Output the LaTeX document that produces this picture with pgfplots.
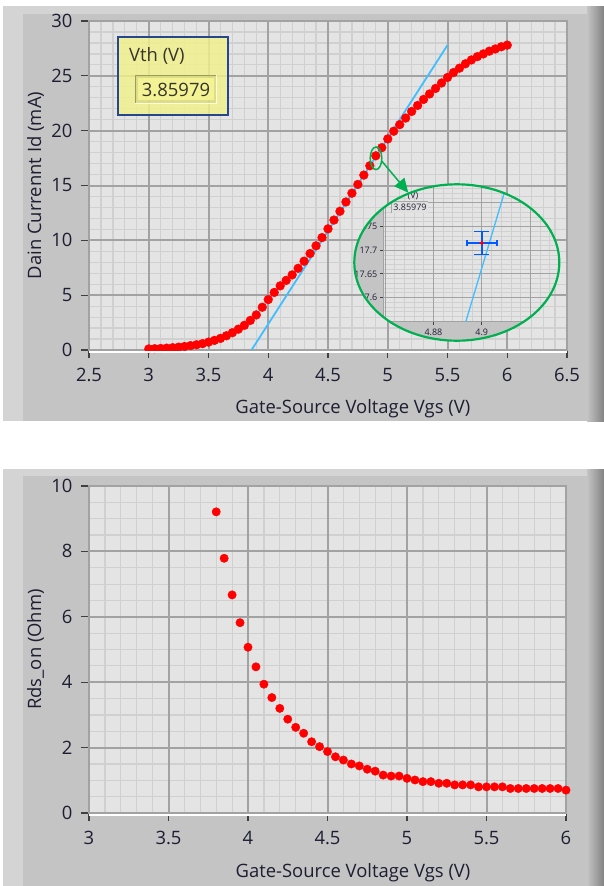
\documentclass[border=0pt]{standalone}
\usepackage{pgfplots}
\pgfplotsset{compat=1.18}
\usepackage{pgfplotstable}
\usepackage{fontspec}
\setmainfont{Open Sans}
\usetikzlibrary{arrows.meta}
\definecolor{panel}{RGB}{196,196,196}
\definecolor{panellight}{RGB}{212,212,212}
\definecolor{paneldark}{RGB}{130,130,130}
\definecolor{plotbg}{RGB}{228,228,228}
\definecolor{majgrid}{RGB}{162,162,162}
\definecolor{mingrid}{RGB}{208,208,208}
\definecolor{fitblue}{RGB}{64,190,255}
\definecolor{cursorblue}{RGB}{0,90,255}
\definecolor{zoomgreen}{RGB}{0,176,80}
\definecolor{vthborder}{RGB}{40,70,140}
\definecolor{vthfill}{RGB}{242,242,140}
\definecolor{labeltext}{RGB}{30,30,50}

\pgfplotstableread{
v id
3.00 0.10
3.05 0.12
3.10 0.14
3.15 0.17
3.20 0.21
3.25 0.26
3.30 0.32
3.35 0.40
3.40 0.48
3.45 0.58
3.50 0.72
3.55 0.88
3.60 1.06
3.65 1.30
3.70 1.58
3.75 1.90
3.80 2.25
3.85 2.70
3.90 3.20
3.95 3.90
4.00 4.60
4.05 5.25
4.10 5.85
4.15 6.35
4.20 6.85
4.25 7.45
4.30 8.10
4.35 8.80
4.40 9.50
4.45 10.25
4.50 11.05
4.55 11.85
4.60 12.65
4.65 13.50
4.70 14.30
4.75 15.10
4.80 15.95
4.85 16.80
4.90 17.71
4.95 18.45
5.00 19.25
5.05 19.95
5.10 20.55
5.15 21.15
5.20 21.75
5.25 22.30
5.30 22.85
5.35 23.35
5.40 23.85
5.45 24.35
5.50 24.85
5.55 25.30
5.60 25.70
5.65 26.10
5.70 26.45
5.75 26.75
5.80 27.00
5.85 27.25
5.90 27.45
5.95 27.65
6.00 27.80
}\idtable

\pgfplotstableread{
v rds
3.80 9.21
3.85 7.79
3.90 6.67
3.95 5.82
4.00 5.07
4.05 4.47
4.10 3.94
4.15 3.53
4.20 3.20
4.25 2.87
4.30 2.62
4.35 2.44
4.40 2.18
4.45 2.03
4.50 1.88
4.55 1.72
4.60 1.62
4.65 1.50
4.70 1.44
4.75 1.34
4.80 1.28
4.85 1.16
4.90 1.13
4.95 1.13
5.00 1.06
5.05 1.01
5.10 0.96
5.15 0.96
5.20 0.91
5.25 0.91
5.30 0.86
5.35 0.86
5.40 0.86
5.45 0.80
5.50 0.80
5.55 0.80
5.60 0.80
5.65 0.75
5.70 0.75
5.75 0.75
5.80 0.75
5.85 0.75
5.90 0.75
5.95 0.75
6.00 0.70
}\rdstable

\newcommand{\lvfont}{\fontsize{18.5}{20}\selectfont}
\pgfplotsset{
  minorlayer/.style={
    scale only axis,
    axis background/.style={fill=plotbg},
    xticklabels={}, yticklabels={},
    grid=minor,
    minor grid style={mingrid, line width=1.2bp},
    major tick length=0bp,
    minor tick length=0bp,
    axis line style={draw=none},
  },
  labview/.style={
    scale only axis,
    grid=major,
    major grid style={majgrid, line width=2bp},
    axis line style={majgrid, line width=2bp},
    tick align=outside,
    xtick pos=bottom, ytick pos=left,
    major tick length=8bp,
    every tick/.style={black!75, line width=1.2bp},
    tick label style={font=\lvfont, text=labeltext},
    xticklabel style={yshift=-7bp},
    yticklabel style={xshift=-5bp},
    /pgf/number format/assume math mode=true,
  },
  reddots/.style={only marks, mark=*, mark size=4.4bp, mark options={fill=red, draw=red}},
}

\begin{document}
\begin{tikzpicture}[x=1bp,y=1bp]
\useasboundingbox (0,0) rectangle (604,-886);
% ---------- panels ----------
\fill[panel] (3,-6) rectangle (604,-421);
\fill[panellight] (3,-6) rectangle (23,-421);
\fill[panellight] (3,-6) rectangle (604,-14);
\shade[left color=panel, right color=paneldark] (587,-6) rectangle (604,-421);
\fill[panel] (3,-469) rectangle (604,-886);
\fill[panellight] (3,-469) rectangle (23,-886);
\fill[panellight] (3,-469) rectangle (604,-476);
\shade[left color=panel, right color=paneldark] (587,-469) rectangle (604,-886);

% ---------- top chart ----------
\begin{axis}[minorlayer,
  at={(89bp,-350bp)}, anchor=south west,
  width=478bp, height=329bp,
  xmin=2.5, xmax=6.5, ymin=0, ymax=30,
  xtick={2.5,3,3.5,4,4.5,5,5.5,6,6.5},
  ytick={0,5,10,15,20,25,30},
  minor xtick={2.6,2.7,2.8,2.9,3.1,3.2,3.3,3.4,3.6,3.7,3.8,3.9,4.1,4.2,4.3,4.4,4.6,4.7,4.8,4.9,5.1,5.2,5.3,5.4,5.6,5.7,5.8,5.9,6.1,6.2,6.3,6.4},
  minor ytick={1,2,3,4,6,7,8,9,11,12,13,14,16,17,18,19,21,22,23,24,26,27,28,29},
]
\end{axis}
\begin{axis}[labview,
  at={(89bp,-350bp)}, anchor=south west,
  width=478bp, height=329bp,
  xmin=2.5, xmax=6.5, ymin=0, ymax=30,
  xtick={2.5,3,3.5,4,4.5,5,5.5,6,6.5},
  ytick={0,5,10,15,20,25,30},
  xlabel={Gate-Source Voltage Vgs (V)},
  ylabel={Dain Currennt Id (mA)},
  every axis x label/.style={at={(axis description cs:0.552,-0.1915)}, anchor=base, font=\lvfont, text=labeltext},
  every axis y label/.style={at={(axis description cs:-0.1004,0.5)}, rotate=90, anchor=base, font=\lvfont, text=labeltext},
]
\addplot[fitblue, line width=1.8bp] coordinates {(3.86,0) (5.50,27.8)};
\addplot[reddots] table[x=v, y=id] {\idtable};
\end{axis}
\draw[white, line width=2bp] (89,-351.8) -- (567,-351.8);

% ---------- inset ----------
\begin{scope}
\clip (456.8,-262.5) ellipse [x radius=102.5, y radius=78.2];
\fill[panel] (350,-180) rectangle (565,-345);
\begin{axis}[
  scale only axis,
  at={(383.3bp,-321.7bp)}, anchor=south west,
  width=181.7bp, height=141.7bp,
  xmin=4.8593, xmax=4.9344, ymin=17.549, ymax=17.848,
  axis background/.style={fill=plotbg},
  grid=minor,
  minor grid style={mingrid, line width=0.6bp},
  axis line style={draw=none},
  xtick={4.86,4.88,4.9,4.92},
  ytick={17.55,17.6,17.65,17.7,17.75,17.8},
  xticklabels={}, yticklabels={},
  major tick length=0bp, minor tick length=0bp,
  minor xtick={4.864,4.868,4.872,4.876,4.884,4.888,4.892,4.896,4.904,4.908,4.912,4.916,4.924,4.928,4.932},
  minor ytick={17.56,17.57,17.58,17.59,17.61,17.62,17.63,17.64,17.66,17.67,17.68,17.69,17.71,17.72,17.73,17.74,17.76,17.77,17.78,17.79,17.81,17.82,17.83,17.84},
]
\end{axis}
\begin{axis}[
  scale only axis,
  at={(383.3bp,-321.7bp)}, anchor=south west,
  width=181.7bp, height=141.7bp,
  xmin=4.8593, xmax=4.9344, ymin=17.549, ymax=17.848,
  grid=major,
  major grid style={majgrid, line width=1bp},
  axis line style={majgrid, line width=1bp},
  xtick={4.86,4.88,4.9,4.92},
  ytick={17.55,17.6,17.65,17.7,17.75,17.8},
  tick align=outside, xtick pos=bottom, ytick pos=left,
  major tick length=3.5bp,
  every tick/.style={black!75, line width=0.7bp},
  tick label style={font=\fontsize{9}{10}\selectfont, text=labeltext},
  /pgf/number format/assume math mode=true,
  /pgf/number format/precision=2,
  yticklabel style={xshift=1bp},
]
\addplot[fitblue, line width=1.3bp] coordinates {(4.8934,17.549) (4.9120,17.867)};
% cursor with error bars
\addplot[cursorblue, line width=1.6bp] coordinates {(4.8938,17.715) (4.9062,17.715)};
\addplot[cursorblue, line width=1.6bp] coordinates {(4.9,17.691) (4.9,17.739)};
\addplot[cursorblue, line width=1.6bp] coordinates {(4.8938,17.708) (4.8938,17.722)};
\addplot[cursorblue, line width=1.6bp] coordinates {(4.9062,17.708) (4.9062,17.722)};
\addplot[cursorblue, line width=1.6bp] coordinates {(4.8969,17.739) (4.9031,17.739)};
\addplot[cursorblue, line width=1.6bp] coordinates {(4.8969,17.691) (4.9031,17.691)};
\addplot[only marks, mark=*, mark size=1.8bp, mark options={fill=red, draw=red}]
  coordinates {(4.9,17.715)};
\end{axis}
\fill[black!12] (391.7,-201.7) rectangle (428.3,-213.3);
\draw[black!35, line width=0.6bp] (391.7,-213.3) -- (391.7,-201.7) -- (428.3,-201.7);
\node[anchor=base, font=\fontsize{9}{10}\selectfont, text=labeltext, inner sep=0] at (410,-210.5) {3.85979};
\node[anchor=base, font=\fontsize{9}{10}\selectfont, text=labeltext, inner sep=0] at (413,-198.5) {(V)};
\end{scope}
\draw[zoomgreen, line width=2.2bp] (456.8,-262.5) ellipse [x radius=102.5, y radius=78.2];
\draw[zoomgreen, line width=1.5bp] (376,-158.3) ellipse [x radius=5.8, y radius=11.3];
\draw[zoomgreen, line width=1.5bp, -{Triangle[length=14bp,width=13bp]}] (381.7,-161) -- (408.3,-192.7);

% ---------- Vth indicator ----------
\fill[vthfill, fill opacity=0.82] (118.3,-36.7) rectangle (228.3,-115);
\fill[vthfill!85!black, fill opacity=0.5] (135,-75) rectangle (216.7,-103.3);
\fill[vthfill!92!white] (138,-78) rectangle (213.7,-100.3);
\draw[vthfill!65!black, line width=1bp] (135,-103.3) -- (135,-75) -- (216.7,-75);
\draw[white!70!vthfill, line width=1bp] (135,-103.3) -- (216.7,-103.3) -- (216.7,-75);
\draw[vthborder, line width=2bp] (118.3,-36.7) rectangle (228.3,-115);
\node[anchor=base west, font=\lvfont, text=black!80!olive, inner sep=0] at (129,-61) {Vth (V)};
\node[anchor=base, font=\lvfont, text=black!80!olive, inner sep=0] at (176,-96.5) {3.85979};

% ---------- bottom chart ----------
\begin{axis}[minorlayer,
  at={(89bp,-813bp)}, anchor=south west,
  width=477bp, height=327bp,
  xmin=3, xmax=6, ymin=0, ymax=10,
  xtick={3,3.5,4,4.5,5,5.5,6},
  ytick={0,2,4,6,8,10},
  minor xtick={3.1,3.2,3.3,3.4,3.6,3.7,3.8,3.9,4.1,4.2,4.3,4.4,4.6,4.7,4.8,4.9,5.1,5.2,5.3,5.4,5.6,5.7,5.8,5.9},
  minor ytick={0.5,1,1.5,2.5,3,3.5,4.5,5,5.5,6.5,7,7.5,8.5,9,9.5},
]
\end{axis}
\begin{axis}[labview,
  at={(89bp,-813bp)}, anchor=south west,
  width=477bp, height=327bp,
  xmin=3, xmax=6, ymin=0, ymax=10,
  xtick={3,3.5,4,4.5,5,5.5,6},
  ytick={0,2,4,6,8,10},
  xlabel={Gate-Source Voltage Vgs (V)},
  ylabel={Rds\_on (Ohm)},
  every axis x label/.style={at={(axis description cs:0.5535,-0.1957)}, anchor=base, font=\lvfont, text=labeltext},
  every axis y label/.style={at={(axis description cs:-0.1006,0.5)}, rotate=90, anchor=base, font=\lvfont, text=labeltext},
]
\addplot[reddots, mark size=4.2bp] table[x=v, y=rds] {\rdstable};
\end{axis}
\draw[white, line width=2bp] (89,-814.8) -- (566,-814.8);
\end{tikzpicture}
\end{document}
